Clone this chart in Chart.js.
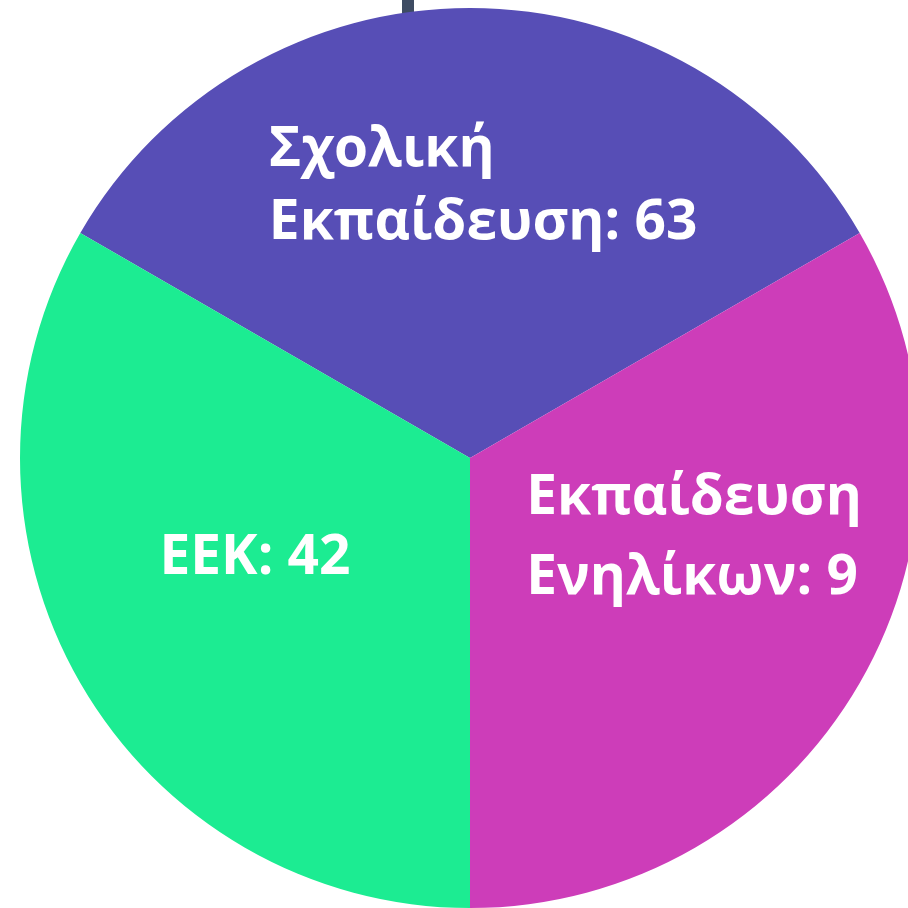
<!DOCTYPE html>
<html>
<head>
<meta charset="utf-8">
<script src="https://cdn.jsdelivr.net/npm/chart.js@4.4.0/dist/chart.umd.min.js"></script>
<style>
  html, body { margin: 0; padding: 0; background: #fff; overflow: hidden; }
  #wrap { position: absolute; left: 0; top: 0; width: 940px; height: 914px; }
</style>
</head>
<body>
<div id="wrap"><canvas id="myChart"></canvas></div>
<script>
// categories (each label is split in lines as in the picture)
const categories = [['Σχολική', 'Εκπαίδευση'], ['Εκπαίδευση', 'Ενηλίκων'], ['EEK']];
// counts printed in the labels
const counts = [63, 9, 42];
// the three slices are drawn with equal size in the picture
const sliceShares = [1, 1, 1];
const sliceColors = ['#574eb6', '#cd3db9', '#1cec92'];

// label placement relative to the pie centre, in units of the radius
const labelPlaces = [
  { fx: -0.447, fy: -0.648, lineGap: 73 },
  { fx: 0.125, fy: 0.124, lineGap: 80 },
  { fx: -0.69, fy: 0.258, lineGap: 75 }
];

const sliceLabels = {
  id: 'sliceLabels',
  beforeDatasetsDraw(chart) {
    // small dark bar peeking above the pie
    const c = chart.ctx;
    c.save();
    c.fillStyle = '#3e4c63';
    c.fillRect(402, 0, 12, 20);
    c.restore();
  },
  afterDatasetsDraw(chart) {
    const c = chart.ctx;
    const arcs = chart.getDatasetMeta(0).data;
    c.save();
    c.fillStyle = '#ffffff';
    c.font = 'bold 55px "Open Sans"';
    c.textAlign = 'left';
    c.textBaseline = 'alphabetic';
    arcs.forEach((arc, i) => {
      const p = arc.getProps(['x', 'y', 'outerRadius'], true);
      const place = labelPlaces[i];
      const lines = categories[i].slice();
      lines[lines.length - 1] = lines[lines.length - 1] + ': ' + counts[i];
      const left = p.x + place.fx * p.outerRadius;
      let base = p.y + place.fy * p.outerRadius;
      lines.forEach((line) => {
        c.fillText(line, left, base);
        base += place.lineGap;
      });
    });
    c.restore();
  }
};

function initChart(chart) {
  const data = {
    labels: categories.map((item) => item.join(' ')),
    datasets: [{
      data: sliceShares,
      backgroundColor: sliceColors,
      borderWidth: 0
    }]
  };

  const config = {
    type: 'pie',
    data: data,
    options: {
      responsive: true,
      maintainAspectRatio: false,
      animation: false,
      rotation: -60,
      layout: { padding: { left: 20, right: 20, top: 8, bottom: 6 } },
      plugins: {
        legend: { display: false },
        tooltip: { enabled: false }
      }
    },
    plugins: [sliceLabels]
  };

  return new Chart(chart, config);
}

document.addEventListener('DOMContentLoaded', () => {
  const ctx = document.querySelector('#myChart');
  initChart(ctx);
});
</script>
</body>
</html>
